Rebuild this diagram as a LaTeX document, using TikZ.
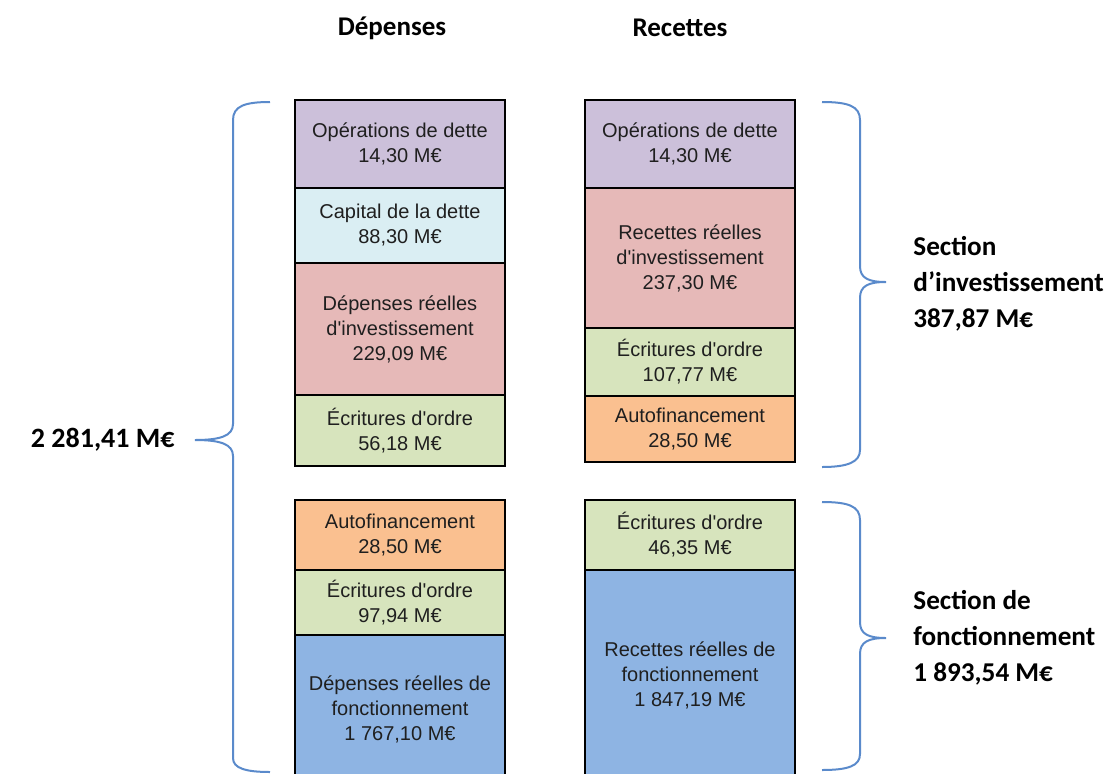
\documentclass[tikz,border=0pt]{standalone}
\usepackage{fontspec}
\setmainfont{Liberation Sans}
\newfontfamily\calibri{Carlito}
\definecolor{opdette}{HTML}{CCC0DA}
\definecolor{capdette}{HTML}{DAEEF3}
\definecolor{reelinv}{HTML}{E6B9B8}
\definecolor{ordre}{HTML}{D7E4BD}
\definecolor{autofin}{HTML}{FAC090}
\definecolor{fonct}{HTML}{8EB4E3}
\definecolor{bracecol}{HTML}{5A8ACB}
\begin{document}
\begin{tikzpicture}[x=0.5pt,y=-0.5pt]

\tikzstyle{cell}=[draw=black,line width=1.3pt,minimum width=105pt,inner sep=0pt,align=center,text=black!88,font=\fontsize{10}{12.5}\selectfont]
\tikzstyle{header}=[font=\calibri\bfseries\fontsize{13.5}{18}\selectfont]
\tikzstyle{sectiontxt}=[anchor=west,align=left,inner sep=0pt,font=\calibri\bfseries\fontsize{13.6}{18}\selectfont]
\tikzstyle{curly}=[draw=bracecol,line width=1pt]

\useasboundingbox (0,0) rectangle (1115,773);
\clip (0,0) rectangle (1115,773);

\node[header] (dep) at (392,28) {Dépenses};
\node[header] (rec) at (680,28) {Recettes};

\node[cell, fill=opdette, minimum height=44pt] (d1) at (400,144) {Opérations de dette\\14,30 M€};
\node[cell, fill=capdette, minimum height=37.5pt] (d2) at (400,225.5) {Capital de la dette\\88,30 M€};
\node[cell, fill=reelinv, minimum height=66pt] (d3) at (400,329) {Dépenses réelles\\d\textquotesingle investissement\\229,09 M€};
\node[cell, fill=ordre, minimum height=35.5pt] (d4) at (400,430.5) {Écritures d\textquotesingle ordre\\56,18 M€};

\node[cell, fill=autofin, minimum height=35pt] (d5) at (400,535) {Autofinancement\\28,50 M€};
\node[cell, fill=ordre, minimum height=32.5pt] (d6) at (400,602.5) {Écritures d\textquotesingle ordre\\97,94 M€};
\node[cell, fill=fonct, minimum height=74pt] (d7) at (400,709) {Dépenses réelles de\\fonctionnement\\1 767,10 M€};

\node[cell, fill=opdette, minimum height=44pt] (r1) at (690,144) {Opérations de dette\\14,30 M€};
\node[cell, fill=reelinv, minimum height=70pt] (r2) at (690,258) {Recettes réelles\\d\textquotesingle investissement\\237,30 M€};
\node[cell, fill=ordre, minimum height=34pt] (r3) at (690,362) {Écritures d\textquotesingle ordre\\107,77 M€};
\node[cell, fill=autofin, minimum height=33pt] (r4) at (690,429) {Autofinancement\\28,50 M€};

\node[cell, fill=ordre, minimum height=35pt] (r5) at (690,535) {Écritures d\textquotesingle ordre\\46,35 M€};
\node[cell, fill=fonct, minimum height=105pt] (r6) at (690,675) {Recettes réelles de\\fonctionnement\\1 847,19 M€};

\node[sectiontxt] (inv) at (913,284) {Section\\d’investissement\\387,87 M€};
\node[sectiontxt] (fon) at (913,638) {Section de\\fonctionnement\\1 893,54 M€};
\node[anchor=east,inner sep=0pt,font=\calibri\bfseries\fontsize{14}{18}\selectfont] (tot) at (175,440) {2 281,41 M€};

\draw[curly] (270,102) .. controls (245,102) and (233,106) .. (233,120) -- (233,424)
  .. controls (233,436) and (220,440) .. (195,440) .. controls (220,440) and (233,444) .. (233,456)
  -- (233,758) .. controls (233,768) and (245,772) .. (270,772);
\draw[curly] (822,102) .. controls (848,102) and (860,106) .. (860,120) -- (860,266)
  .. controls (860,278) and (868,282) .. (886,282) .. controls (868,282) and (860,286) .. (860,298)
  -- (860,450) .. controls (860,462) and (848,467) .. (822,467);
\draw[curly] (822,502) .. controls (848,502) and (860,506) .. (860,520) -- (860,622)
  .. controls (860,634) and (868,638) .. (886,638) .. controls (868,638) and (860,642) .. (860,654)
  -- (860,754) .. controls (860,766) and (848,770) .. (822,770);
\end{tikzpicture}
\end{document}
